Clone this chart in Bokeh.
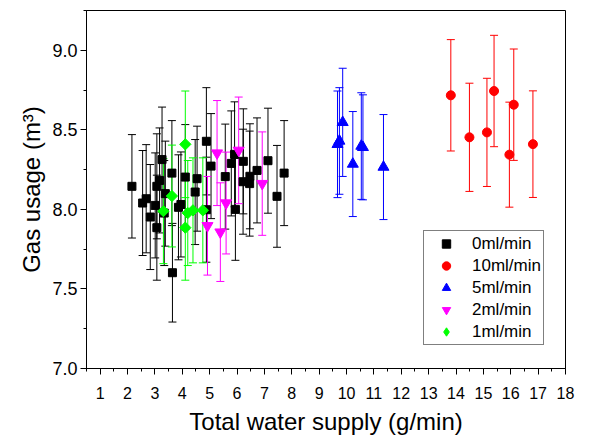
from bokeh.plotting import figure
from bokeh.models import (ColumnDataSource, Whisker, TeeHead, SingleIntervalTicker,
                          NumeralTickFormatter, Legend, LegendItem)
from bokeh.embed import file_html
from bokeh.resources import INLINE
import numpy as np

# ---- data ----
labels = ["0ml/min", "10ml/min", "5ml/min", "2ml/min", "1ml/min"]

x0 = [2.16, 2.55, 2.68, 2.83, 3.01, 3.07, 3.17, 3.26, 3.38, 3.07, 3.34, 3.62, 3.64, 3.86, 3.95, 4.11,
      4.47, 4.54, 4.88, 5.05, 4.88, 5.57, 5.79, 5.91, 5.94, 6.23, 6.22, 6.47, 6.46, 6.73, 7.13, 7.46, 7.72]
y0 = [8.145, 8.04, 8.067, 7.952, 8.025, 8.145, 8.182, 8.313, 8.099, 7.885, 7.977, 8.228, 7.602, 8.013,
      8.031, 8.203, 8.109, 8.193, 8.428, 8.272, 7.998, 8.206, 8.289, 8.346, 8.0, 8.302, 8.174, 8.208,
      8.162, 8.245, 8.306, 8.082, 8.228]
e0 = [0.325, 0.33, 0.34, 0.33, 0.33, 0.33, 0.33, 0.33, 0.33, 0.33, 0.33, 0.33, 0.31, 0.33, 0.33, 0.33,
      0.33, 0.33, 0.337, 0.33, 0.33, 0.33, 0.33, 0.33, 0.32, 0.33, 0.33, 0.33, 0.33, 0.33, 0.33, 0.32, 0.33]

x10 = [13.81, 14.49, 15.13, 15.39, 15.95, 16.11, 16.81]
y10 = [8.717, 8.453, 8.484, 8.744, 8.344, 8.658, 8.41]
e10 = [0.35, 0.34, 0.34, 0.35, 0.33, 0.35, 0.335]

x5 = [9.67, 9.74, 9.86, 10.23, 10.54, 10.6, 11.35]
y5 = [8.409, 8.43, 8.547, 8.285, 8.398, 8.39, 8.266]
e5 = [0.335, 0.335, 0.34, 0.33, 0.335, 0.33, 0.33]

x2 = [4.92, 5.27, 5.39, 5.6, 6.06, 6.92]
y2 = [7.897, 8.354, 7.857, 8.04, 8.371, 8.162]
e2 = [0.31, 0.33, 0.31, 0.32, 0.335, 0.325]

x1 = [3.31, 3.62, 4.11, 4.11, 4.2, 4.39, 4.75]
y1 = [7.989, 8.084, 8.409, 7.885, 7.977, 7.994, 7.994]
e1 = [0.33, 0.32, 0.335, 0.33, 0.33, 0.33, 0.33]

FONT = "Liberation Sans"

p = figure(width=575, height=439, x_range=(0.5, 18), y_range=(7.0, 9.25),
           output_backend="svg", toolbar_location=None,
           min_border_left=86, min_border_right=10, min_border_top=10, min_border_bottom=71)
p.background_fill_color = "white"
p.border_fill_color = "white"
p.outline_line_color = "black"
p.outline_line_width = 1
p.xgrid.visible = False
p.ygrid.visible = False

p.xaxis.ticker = SingleIntervalTicker(interval=1, num_minor_ticks=2)
p.yaxis.ticker = SingleIntervalTicker(interval=0.5, num_minor_ticks=2)
p.yaxis.formatter = NumeralTickFormatter(format="0.0")
for ax in (p.xaxis[0], p.yaxis[0]):
    ax.axis_line_color = "black"
    ax.major_tick_line_color = "black"
    ax.minor_tick_line_color = "black"
    ax.major_tick_in = 0
    ax.major_tick_out = 6
    ax.minor_tick_in = 0
    ax.minor_tick_out = 3
    ax.major_label_text_font = FONT
    ax.axis_label_text_font = FONT
    ax.major_label_text_color = "black"
    ax.axis_label_text_color = "black"
    ax.axis_label_text_font_style = "normal"

p.xaxis.axis_label = "Total water supply (g/min)"
p.yaxis.axis_label = "Gas usage (m\u00b3)"
p.xaxis.major_label_text_font_size = "16px"
p.yaxis.major_label_text_font_size = "18px"
p.xaxis.axis_label_text_font_size = "24px"
p.yaxis.axis_label_text_font_size = "24px"
p.xaxis.major_label_standoff = 12
p.yaxis.major_label_standoff = 3
p.xaxis.axis_label_standoff = 6
p.yaxis.axis_label_standoff = 4

series = [
    (x0, y0, e0, "black", "square", 8, 0),
    (x1, y1, e1, "#00ff00", "square", 8, np.pi / 4),
    (x2, y2, e2, "#ff00ff", "inverted_triangle", 11, 0),
    (x5, y5, e5, "#0000ff", "triangle", 11, 0),
    (x10, y10, e10, "#ff0000", "circle", 9, 0),
]
names = {"black": labels[0], "#ff0000": labels[1], "#0000ff": labels[2],
         "#ff00ff": labels[3], "#00ff00": labels[4]}

renderers = {}
for xs, ys, es, col, mk, sz, ang in series:
    src = ColumnDataSource(dict(x=xs, y=ys,
                                up=[a + b for a, b in zip(ys, es)],
                                lo=[a - b for a, b in zip(ys, es)]))
    w = Whisker(base="x", upper="up", lower="lo", source=src,
                line_color=col, line_width=1,
                upper_head=TeeHead(size=8, line_color=col, line_width=1),
                lower_head=TeeHead(size=8, line_color=col, line_width=1))
    p.add_layout(w)
    r = p.scatter("x", "y", source=src, marker=mk, size=sz, angle=ang,
                  fill_color=col, line_color=col)
    renderers[names[col]] = r
    if ang != 0:
        # legend swatch for the rotated-square (diamond) series
        leg = p.scatter("x", "y", source=src, marker="diamond", size=sz,
                        fill_color=col, line_color=col, visible=False)
        renderers[names[col]] = leg

items = [LegendItem(label=lab, renderers=[renderers[lab]]) for lab in labels]
legend = Legend(items=items, location=(337, 23),
                label_text_font=FONT, label_text_font_size="17px",
                label_text_color="black",
                border_line_color="black", border_line_width=1,
                background_fill_color="white", background_fill_alpha=1,
                padding=2, spacing=1, label_height=21, glyph_height=21,
                glyph_width=40, label_standoff=6, margin=0)
p.add_layout(legend)

open("out.html", "w").write(file_html(p, INLINE))
